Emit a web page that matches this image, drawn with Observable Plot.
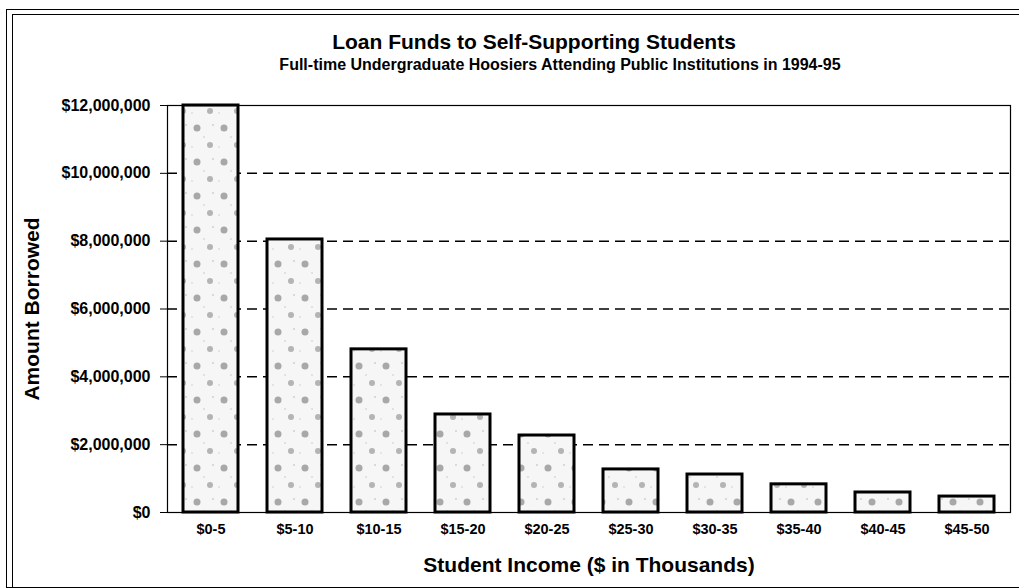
<!DOCTYPE html>
<html>
<head>
<meta charset="utf-8">
<script src="https://cdn.jsdelivr.net/npm/d3@7"></script>
<script src="https://cdn.jsdelivr.net/npm/@observablehq/plot@0.6"></script>
<style>
  html, body { margin: 0; padding: 0; background: #fff; }
  #page { position: relative; width: 1019px; height: 588px; overflow: hidden; font-family: "Liberation Sans", Arial, sans-serif; font-weight: bold; color: #000; }
  .frame1 { position: absolute; left: 6px; top: 9px; width: 1100px; height: 577px; border: 1.5px solid #000; }
  .frame2 { position: absolute; left: 12px; top: 14px; width: 1100px; height: 572px; border-left: 1.5px solid #000; border-top: 1.5px solid #000; }
  #header { position: relative; height: 85px; }
  .t { position: absolute; white-space: nowrap; transform: translateX(-50%); line-height: 1; }
  #title { left: 534px; top: 31px; font-size: 21px; }
  #subtitle { left: 560px; top: 57px; font-size: 16px; }
  #chart { position: absolute; left: 0; top: 85px; }
</style>
</head>
<body>
<div id="page">
  <div class="frame1"></div>
  <div class="frame2"></div>
  <div id="header">
    <div class="t" id="title">Loan Funds to Self-Supporting Students</div>
    <div class="t" id="subtitle">Full-time Undergraduate Hoosiers Attending Public Institutions in 1994-95</div>
  </div>
  <div id="chart"></div>
</div>
<script>
const categories = ["$0-5", "$5-10", "$10-15", "$15-20", "$20-25", "$25-30", "$30-35", "$35-40", "$40-45", "$45-50"];
const amounts = [12000000, 8050000, 4810000, 2890000, 2270000, 1270000, 1120000, 830000, 590000, 470000];
const yTicks = [0, 2000000, 4000000, 6000000, 8000000, 10000000, 12000000];
const gridTicks = [2000000, 4000000, 6000000, 8000000, 10000000];

const data = categories.map((c, i) => ({category: c, amount: amounts[i]}));

const chart = Plot.plot({
  width: 1019,
  height: 503,
  marginTop: 20,
  marginBottom: 76,
  marginLeft: 167,
  marginRight: 9,
  style: {fontFamily: "'Liberation Sans', Arial, sans-serif", fontWeight: "bold", background: "transparent", overflow: "visible"},
  x: {domain: categories, paddingInner: 0.34, paddingOuter: 0.16, label: null},
  y: {domain: [0, 12000000], label: null},
  marks: [
    Plot.ruleY(gridTicks, {stroke: "#000", strokeWidth: 1.5, strokeDasharray: "10,6"}),
    Plot.barY(data, {x: "category", y: "amount", fill: "url(#stipple)", stroke: "#000", strokeWidth: 3}),
    Plot.frame({stroke: "#000", strokeWidth: 1.2}),
    Plot.axisY(yTicks, {tickSize: 7, tickPadding: 10, fontSize: 16, tickFormat: d => "$" + d3.format(",")(d),
      label: "Amount Borrowed", labelAnchor: "center", labelOffset: 143, labelArrow: "none"}),
    Plot.axisX({tickSize: 0, tickPadding: 11, fontSize: 14.5,
      label: "Student Income ($ in Thousands)", labelAnchor: "center", labelOffset: 59, labelArrow: "none"})
  ]
});

// stippled fill pattern for bars
const svg = d3.select(chart);
const defs = svg.insert("defs", ":first-child");
const pat = defs.append("pattern").attr("id", "stipple").attr("patternUnits", "userSpaceOnUse")
  .attr("width", 27).attr("height", 34);
pat.append("rect").attr("width", 27).attr("height", 34).attr("fill", "#f6f6f6");
[[8, 9, 3.5, "#a8a8a8"], [21, 26, 3, "#b4b4b4"], [15, 18, 0.8, "#c8c8c8"], [3, 28, 0.8, "#cfcfcf"], [24, 6, 0.9, "#cccccc"]]
  .forEach(([cx, cy, r, f]) => pat.append("circle").attr("cx", cx).attr("cy", cy).attr("r", r).attr("fill", f));

svg.selectAll("[aria-label='y-axis label'] text, [aria-label='x-axis label'] text").style("font-size", "21px");

document.getElementById("chart").appendChild(chart);
</script>
</body>
</html>
